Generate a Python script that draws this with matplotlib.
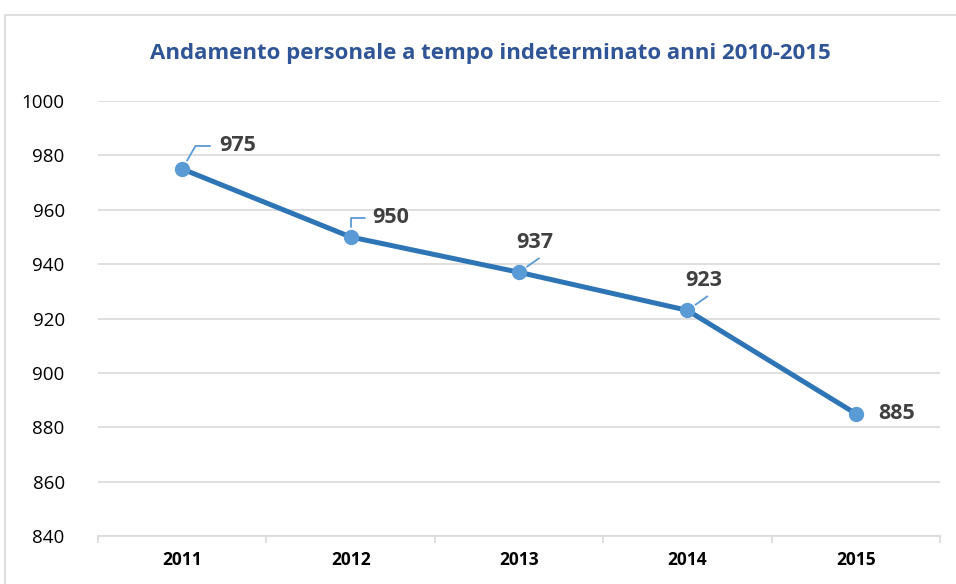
import matplotlib.pyplot as plt
from matplotlib.patches import Rectangle

anni = ["2011", "2012", "2013", "2014", "2015"]
personale = [975, 950, 937, 923, 885]
titolo = "Andamento personale a tempo indeterminato anni 2010-2015"

plt.rcParams['font.family'] = ['Open Sans', 'DejaVu Sans']

fig = plt.figure(figsize=(9.56, 5.84), dpi=100)
ax = fig.add_axes([98/956, 1-536/584, 842/956, 435/584])

# chart border
fig.patches.append(Rectangle((5/956, -0.1), 1.1, 1-15/584+0.1, transform=fig.transFigure,
                             fill=False, edgecolor="#D9D9D9", linewidth=1.2))

x = list(range(len(anni)))
ax.plot(x, personale, color="#2E75B6", linewidth=3.6, zorder=3)
ax.plot(x, personale, "o", color="#5B9BD5", markersize=10, zorder=4)

ax.set_xlim(-0.5, 4.5)
ax.set_ylim(840, 1000)
ax.set_yticks(range(840, 1001, 20))
ax.grid(axis="y", color="#D9D9D9", linewidth=1.2)
ax.set_axisbelow(True)
for s in ["top", "right", "left"]:
    ax.spines[s].set_visible(False)
ax.spines["bottom"].set_color("#D9D9D9")
ax.spines["bottom"].set_linewidth(1.2)

ax.set_xticks(x)
ax.set_xticklabels(anni, fontweight="bold", fontsize=12.5)
ax.set_xticks([i - 0.5 for i in range(len(anni) + 1)], minor=True)
ax.tick_params(axis="x", which="major", length=0, pad=11)
ax.tick_params(axis="x", which="minor", length=5, color="#D9D9D9", width=1.2)
ax.tick_params(axis="y", length=0, pad=24, labelsize=13.5)

fig.text(490/956, 1-53/584, titolo, ha="center", va="center", fontsize=16,
         fontweight="bold", color="#2F5597")

# labels with leader lines (offsets in points)
k = 72/100
lab_col = "#404040"
lead = "#5B9BD5"
fs = 15.5
# 975
ax.annotate("", xy=(0, personale[0]), xytext=(28*k, 23*k), textcoords="offset points",
            arrowprops=dict(arrowstyle="-", color=lead, lw=1.3, shrinkA=0, shrinkB=7,
                            connectionstyle="angle,angleA=0,angleB=60"))
ax.annotate(str(personale[0]), xy=(0, personale[0]), xytext=(37*k, 23*k),
            textcoords="offset points", ha="left", va="center", fontsize=fs,
            fontweight="bold", color=lab_col)
# 950
ax.annotate("", xy=(1, personale[1]), xytext=(14*k, 19*k), textcoords="offset points",
            arrowprops=dict(arrowstyle="-", color=lead, lw=1.3, shrinkA=0, shrinkB=7,
                            connectionstyle="angle,angleA=0,angleB=90"))
ax.annotate(str(personale[1]), xy=(1, personale[1]), xytext=(22*k, 19*k),
            textcoords="offset points", ha="left", va="center", fontsize=fs,
            fontweight="bold", color=lab_col)
# 937, 923
for i in [2, 3]:
    ax.annotate("", xy=(i, personale[i]), xytext=(20*k, 14*k), textcoords="offset points",
                arrowprops=dict(arrowstyle="-", color=lead, lw=1.3, shrinkA=0, shrinkB=7))
    ax.annotate(str(personale[i]), xy=(i, personale[i]), xytext=(16*k, 30*k),
                textcoords="offset points", ha="center", va="center", fontsize=fs,
                fontweight="bold", color=lab_col)
# 885
ax.annotate(str(personale[4]), xy=(4, personale[4]), xytext=(22*k, 0),
            textcoords="offset points", ha="left", va="center", fontsize=fs,
            fontweight="bold", color=lab_col)

fig.savefig("out.png", dpi=100)
